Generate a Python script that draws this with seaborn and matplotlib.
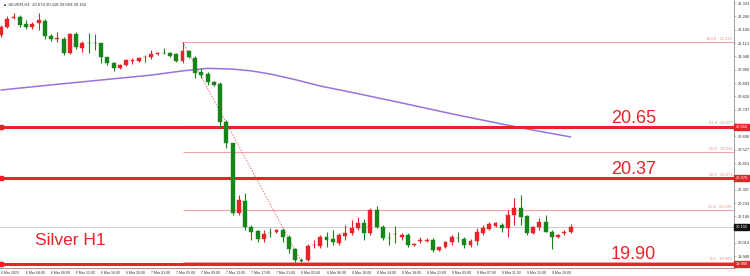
import numpy as np
import pandas as pd
import matplotlib
matplotlib.use("Agg")
import matplotlib.pyplot as plt
import matplotlib.transforms as mtransforms
import seaborn as sns

# ---------------- data ----------------
opens = [21.158, 21.202, 21.251, 21.257, 21.218, 21.202, 21.224, 21.235, 21.152, 21.136,
         21.136, 21.059, 21.163, 21.086, 21.114, 21.114, 21.114, 21.037, 21.004, 20.976,
         20.993, 21.017, 21.015, 21.034, 21.037, 21.053, 21.059, 21.059, 21.053, 21.015,
         21.070, 21.031, 20.954, 20.943, 20.899, 20.888, 20.679, 20.564, 20.179, 20.245,
         20.102, 20.080, 20.036, 20.069, 20.074, 20.085, 20.047, 19.981, 19.920, 19.920,
         20.000, 19.997, 20.047, 20.036, 20.014, 20.052, 20.069, 20.096, 20.124, 20.069,
         20.195, 20.102, 20.041, 20.063, 20.047, 20.058, 20.005, 20.027, 20.027, 20.030,
         19.975, 19.992, 20.019, 20.041, 20.036, 20.003, 20.025, 20.069, 20.091, 20.107,
         20.113, 20.096, 20.168, 20.206, 20.162, 20.069, 20.102, 20.129, 20.074, 20.047,
         20.071, 20.074]
highs = [21.213, 21.262, 21.279, 21.268, 21.240, 21.229, 21.279, 21.246, 21.163, 21.174,
         21.147, 21.169, 21.174, 21.125, 21.169, 21.163, 21.114, 21.037, 21.009, 20.998,
         21.026, 21.031, 21.037, 21.048, 21.075, 21.064, 21.086, 21.064, 21.059, 21.119,
         21.075, 21.042, 20.976, 20.954, 20.904, 20.899, 20.690, 20.564, 20.278, 20.289,
         20.113, 20.085, 20.085, 20.096, 20.091, 20.096, 20.058, 19.986, 19.931, 20.008,
         20.030, 20.058, 20.074, 20.085, 20.069, 20.113, 20.140, 20.157, 20.146, 20.206,
         20.217, 20.113, 20.074, 20.107, 20.069, 20.069, 20.014, 20.047, 20.041, 20.041,
         19.992, 20.025, 20.058, 20.074, 20.047, 20.036, 20.096, 20.113, 20.129, 20.129,
         20.124, 20.195, 20.261, 20.278, 20.168, 20.107, 20.151, 20.168, 20.085, 20.063,
         20.085, 20.118]
lows = [21.147, 21.196, 21.246, 21.202, 21.191, 21.191, 21.185, 21.136, 21.125, 21.119,
        21.048, 21.053, 21.081, 21.064, 21.059, 21.075, 21.004, 20.993, 20.960, 20.971,
        20.987, 20.998, 21.009, 21.009, 21.026, 21.048, 21.053, 21.037, 21.009, 21.004,
        21.031, 20.921, 20.921, 20.882, 20.877, 20.646, 20.536, 20.168, 20.168, 20.085,
        20.030, 20.019, 20.019, 20.047, 20.069, 20.019, 19.959, 19.909, 19.909, 19.915,
        19.986, 19.986, 19.991, 20.003, 20.003, 20.030, 20.058, 20.085, 20.030, 20.058,
        20.096, 20.030, 20.003, 20.014, 20.030, 19.992, 19.997, 20.014, 20.019, 19.964,
        19.970, 19.986, 20.003, 20.019, 19.986, 19.992, 20.003, 20.058, 20.085, 20.102,
        20.074, 20.047, 20.113, 20.113, 20.058, 20.063, 20.085, 20.074, 19.980, 20.041,
        20.058, 20.069]
closes = [21.202, 21.246, 21.257, 21.213, 21.202, 21.218, 21.240, 21.152, 21.136, 21.141,
          21.059, 21.163, 21.092, 21.114, 21.111, 21.111, 21.037, 21.004, 20.976, 20.993,
          21.020, 21.020, 21.031, 21.037, 21.053, 21.059, 21.056, 21.042, 21.015, 21.070,
          21.037, 20.949, 20.938, 20.899, 20.882, 20.679, 20.564, 20.179, 20.250, 20.102,
          20.074, 20.036, 20.063, 20.066, 20.085, 20.047, 19.981, 19.920, 19.917, 19.997,
          20.003, 20.047, 20.030, 20.019, 20.058, 20.069, 20.096, 20.124, 20.069, 20.195,
          20.102, 20.041, 20.039, 20.061, 20.058, 20.003, 20.008, 20.030, 20.030, 19.975,
          19.992, 20.019, 20.047, 20.039, 20.003, 20.025, 20.074, 20.096, 20.118, 20.124,
          20.096, 20.168, 20.206, 20.157, 20.069, 20.102, 20.129, 20.074, 20.047, 20.058,
          20.074, 20.102]

ma_idx = [0, 8, 16, 24, 29, 33, 37, 40, 43, 47, 51, 57, 64, 72, 80, 86, 91]
ma_val = [20.855, 20.883, 20.910, 20.937, 20.960, 20.974, 20.970, 20.960, 20.943, 20.912,
          20.877, 20.835, 20.784, 20.724, 20.668, 20.628, 20.597]

fib_ratios = ["100.0", "61.8", "50.0", "38.2", "23.6", "0.0"]
fib_prices = [21.119, 20.657, 20.514, 20.371, 20.195, 19.909]
fib_start = 29
trend_idx = [29, 48]
trend_val = [21.119, 19.909]

sr_levels = [20.65, 20.37, 19.90]
sr_labels = ["20.65", "20.37", "19.90"]
last_price = 20.102

date_labels = ["6 Mar 2023", "6 Mar 04:00", "6 Mar 08:00", "6 Mar 12:00", "6 Mar 16:00",
               "6 Mar 20:00", "7 Mar 01:00", "7 Mar 05:00", "7 Mar 09:00", "7 Mar 13:00",
               "7 Mar 17:00", "7 Mar 21:00", "8 Mar 02:00", "8 Mar 06:00", "8 Mar 10:00",
               "8 Mar 14:00", "8 Mar 18:00", "8 Mar 22:00", "9 Mar 03:00", "9 Mar 07:00",
               "9 Mar 11:00", "9 Mar 15:00", "9 Mar 19:00"]

# ---------------- styling ----------------
sns.set_style("white")
plt.rcParams['font.family'] = ['Liberation Sans', 'DejaVu Sans']

RED = "#e8232a"
GREEN = "#16861a"
PINK = "#f5a3aa"

df = pd.DataFrame({"o": opens, "h": highs, "l": lows, "c": closes})
df["i"] = np.arange(len(df))
up = df["c"] >= df["o"]
cols = np.where(up, RED, GREEN)

fig = plt.figure(figsize=(7.5, 2.76), dpi=100)
ax = fig.add_axes([0, 8 / 276, 734 / 750, 268 / 276])

xmin, xmax = -0.16, 117.09
ax.set_xlim(xmin, xmax)
ax.set_ylim(19.876, 21.35)

# fib thin lines
for r, p in zip(fib_ratios, fib_prices):
    ax.hlines(p, fib_start, xmax, color=PINK, lw=0.8, zorder=1)
    ax.text(116.8, p + 0.004, f"{r}   {p:.3f}", color="#f08890", fontsize=3.0,
            ha="right", va="bottom", zorder=2)

# last price line
ax.axhline(last_price, color="#c6c6c6", lw=0.6, zorder=1)

# support / resistance thick lines
for p in sr_levels:
    ax.axhline(p, color=RED, lw=2.2, zorder=3)
ax.plot([xmin + 0.15] * len(sr_levels), sr_levels, "s", ms=2.2, color=RED,
        clip_on=False, zorder=4)

# MA line
sns.lineplot(x=ma_idx, y=ma_val, ax=ax, color="#9a72e0", lw=1.1, zorder=2)

# trend dotted line
ax.plot(trend_idx, trend_val, color="#ee6f78", lw=0.7, ls=(0, (1.5, 1.5)), zorder=2)

# candles
ax.vlines(df["i"], df["l"], df["h"], color=cols, lw=0.8, zorder=5)
body_lo = np.minimum(df["o"], df["c"])
body_h = np.maximum(np.abs(df["c"] - df["o"]), 0.004)
ax.bar(df["i"], body_h, bottom=body_lo, width=0.62, color=cols, edgecolor=cols,
       linewidth=0.3, zorder=6)

# big labels
for p, s in zip(sr_levels, sr_labels):
    ax.text(101, p + 0.023, s, color=RED, fontsize=13, ha="center", va="baseline", zorder=7)
ax.text(5.4, 20.0025, "Silver H1", color=RED, fontsize=12.5, ha="left", va="baseline", zorder=7)

# axes appearance
for sp in ["top", "left"]:
    ax.spines[sp].set_visible(False)
for sp in ["right", "bottom"]:
    ax.spines[sp].set_color("#8c8c8c")
    ax.spines[sp].set_linewidth(0.6)

boxes = sr_levels + [last_price]
yt = [21.333 - 0.0733 * k for k in range(20)]
ylabels = ["" if min(abs(v - b) for b in boxes) < 0.03 else f"{v:.3f}" for v in yt]
ax.yaxis.tick_right()
ax.set_yticks(yt)
ax.set_yticklabels(ylabels, fontsize=2.9, color="#333333")
ax.tick_params(axis="y", length=1.5, width=0.4, pad=1.0, color="#8c8c8c")

xt = list(range(0, 4 * len(date_labels), 4))
ax.set_xticks(xt)
ax.set_xticklabels(date_labels, fontsize=2.5, color="#333333", ha="left")
ax.tick_params(axis="x", length=1.5, width=0.4, pad=1.0, color="#8c8c8c")

# price boxes on right axis
tr = mtransforms.blended_transform_factory(ax.transAxes, ax.transData)
for p in sr_levels:
    ax.text(1.002, p, f"{p:.3f}", transform=tr, fontsize=2.9, color="white",
            ha="left", va="center", clip_on=False, zorder=8,
            bbox=dict(facecolor=RED, edgecolor=RED, pad=0.8))
ax.text(1.002, last_price, f"{last_price:.3f}", transform=tr, fontsize=2.9, color="white",
        ha="left", va="center", clip_on=False, zorder=8,
        bbox=dict(facecolor="#111111", edgecolor="#111111", pad=0.8))

fig.text(3 / 750, 1 - 5 / 276, "\u25b2 SILVER,H1  20.074 20.118 20.069 20.102",
         fontsize=3.1, color="#333333", va="center")

fig.savefig("out.png", dpi=100)
